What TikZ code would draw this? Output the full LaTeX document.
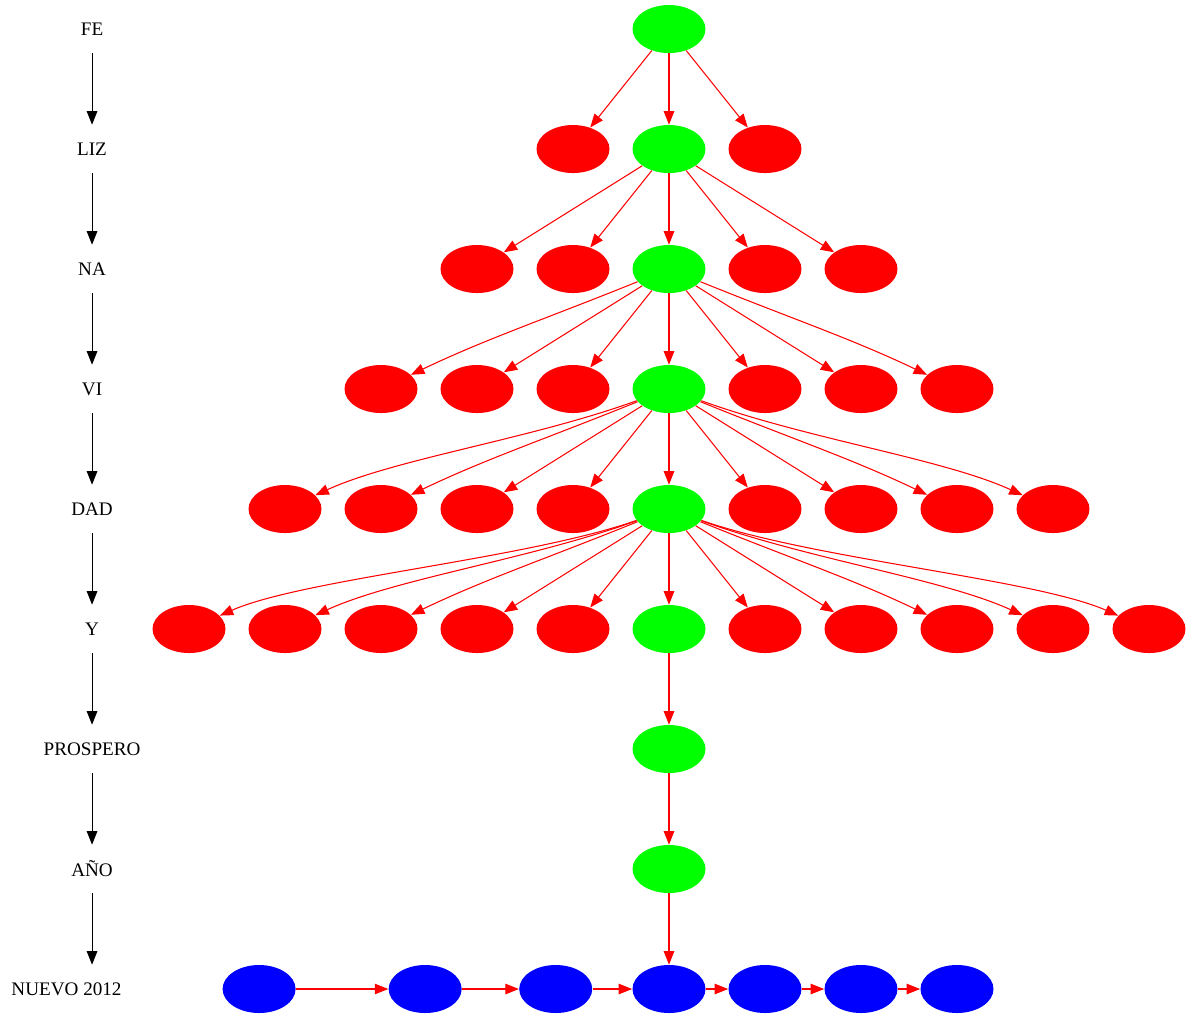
\documentclass[tikz,border=0pt]{standalone}
\usepackage{fontspec}
\setmainfont{Liberation Serif}
\usepackage{tikz}
\usetikzlibrary{arrows.meta,shapes.geometric}
\usepackage{xcolor}

\begin{document}
\begin{tikzpicture}[x=1.92cm,y=2.4cm,>={Triangle[length=2.7mm,width=2.1mm]},font=\fontsize{10.9}{13}\selectfont,
  ball/.style={ellipse,minimum width=1.46cm,minimum height=0.96cm,inner sep=0pt},
  leaf/.style={ball,fill=green},
  bauble/.style={ball,fill=red},
  bulb/.style={ball,fill=blue},
  tag/.style={minimum height=0.96cm,inner sep=0pt},
  branch/.style={->,red,line width=0.6pt},
  rankline/.style={->,black,line width=0.6pt}]
\useasboundingbox (-6.969,0.242) rectangle (5.4375,-8.25);
% words on the left
\node[tag] (fe) at (-6.01,0) {FE};
\node[tag] (liz) at (-6.01,-1) {LIZ};
\node[tag] (na) at (-6.01,-2) {NA};
\node[tag] (vi) at (-6.01,-3) {VI};
\node[tag] (dad) at (-6.01,-4) {DAD};
\node[tag] (y) at (-6.01,-5) {Y};
\node[tag] (prospero) at (-6.01,-6) {PROSPERO};
\node[tag] (ano) at (-6.01,-7) {AÑO};
\node[tag] (nuevo) at (-6.276,-8) {NUEVO 2012};
\draw[rankline] (fe) -- (liz);
\draw[rankline] (liz) -- (na);
\draw[rankline] (na) -- (vi);
\draw[rankline] (vi) -- (dad);
\draw[rankline] (dad) -- (y);
\draw[rankline] (y) -- (prospero);
\draw[rankline] (prospero) -- (ano);
\draw[rankline] (ano) -- (ano |- nuevo.north);
% trunk
\node[leaf] (t0) at (0,0) {};
\node[leaf] (t1) at (0,-1) {};
\node[leaf] (t2) at (0,-2) {};
\node[leaf] (t3) at (0,-3) {};
\node[leaf] (t4) at (0,-4) {};
\node[leaf] (t5) at (0,-5) {};
\node[leaf] (t6) at (0,-6) {};
\node[leaf] (t7) at (0,-7) {};
% baubles
\node[bauble] (b1l1) at (-1,-1) {};
\node[bauble] (b1r1) at (1,-1) {};
\node[bauble] (b2l2) at (-2,-2) {};
\node[bauble] (b2l1) at (-1,-2) {};
\node[bauble] (b2r1) at (1,-2) {};
\node[bauble] (b2r2) at (2,-2) {};
\node[bauble] (b3l3) at (-3,-3) {};
\node[bauble] (b3l2) at (-2,-3) {};
\node[bauble] (b3l1) at (-1,-3) {};
\node[bauble] (b3r1) at (1,-3) {};
\node[bauble] (b3r2) at (2,-3) {};
\node[bauble] (b3r3) at (3,-3) {};
\node[bauble] (b4l4) at (-4,-4) {};
\node[bauble] (b4l3) at (-3,-4) {};
\node[bauble] (b4l2) at (-2,-4) {};
\node[bauble] (b4l1) at (-1,-4) {};
\node[bauble] (b4r1) at (1,-4) {};
\node[bauble] (b4r2) at (2,-4) {};
\node[bauble] (b4r3) at (3,-4) {};
\node[bauble] (b4r4) at (4,-4) {};
\node[bauble] (b5l5) at (-5,-5) {};
\node[bauble] (b5l4) at (-4,-5) {};
\node[bauble] (b5l3) at (-3,-5) {};
\node[bauble] (b5l2) at (-2,-5) {};
\node[bauble] (b5l1) at (-1,-5) {};
\node[bauble] (b5r1) at (1,-5) {};
\node[bauble] (b5r2) at (2,-5) {};
\node[bauble] (b5r3) at (3,-5) {};
\node[bauble] (b5r4) at (4,-5) {};
\node[bauble] (b5r5) at (5,-5) {};
% lights
\node[bulb] (s1) at (-4.27,-8) {};
\node[bulb] (s2) at (-2.54,-8) {};
\node[bulb] (s3) at (-1.18,-8) {};
\node[bulb] (s4) at (0,-8) {};
\node[bulb] (s5) at (1,-8) {};
\node[bulb] (s6) at (2,-8) {};
\node[bulb] (s7) at (3,-8) {};
% branches
\draw[branch] (t0) -- (b1l1);
\draw[branch] (t0) -- (t1);
\draw[branch] (t0) -- (b1r1);
\draw[branch] (t1) -- (b2l2);
\draw[branch] (t1) -- (b2l1);
\draw[branch] (t1) -- (t2);
\draw[branch] (t1) -- (b2r1);
\draw[branch] (t1) -- (b2r2);
\draw[branch] (t2) .. controls +(-1.3,-0.42) and +(1.1,0.42) .. (b3l3);
\draw[branch] (t2) -- (b3l2);
\draw[branch] (t2) -- (b3l1);
\draw[branch] (t2) -- (t3);
\draw[branch] (t2) -- (b3r1);
\draw[branch] (t2) -- (b3r2);
\draw[branch] (t2) .. controls +(1.3,-0.42) and +(-1.1,0.42) .. (b3r3);
\draw[branch] (t3) .. controls +(-1.45,-0.42) and +(1.15,0.42) .. (b4l4);
\draw[branch] (t3) .. controls +(-1.3,-0.42) and +(1.1,0.42) .. (b4l3);
\draw[branch] (t3) -- (b4l2);
\draw[branch] (t3) -- (b4l1);
\draw[branch] (t3) -- (t4);
\draw[branch] (t3) -- (b4r1);
\draw[branch] (t3) -- (b4r2);
\draw[branch] (t3) .. controls +(1.3,-0.42) and +(-1.1,0.42) .. (b4r3);
\draw[branch] (t3) .. controls +(1.45,-0.42) and +(-1.15,0.42) .. (b4r4);
\draw[branch] (t4) .. controls +(-1.5,-0.42) and +(1.2,0.42) .. (b5l5);
\draw[branch] (t4) .. controls +(-1.45,-0.42) and +(1.15,0.42) .. (b5l4);
\draw[branch] (t4) .. controls +(-1.3,-0.42) and +(1.1,0.42) .. (b5l3);
\draw[branch] (t4) -- (b5l2);
\draw[branch] (t4) -- (b5l1);
\draw[branch] (t4) -- (t5);
\draw[branch] (t4) -- (b5r1);
\draw[branch] (t4) -- (b5r2);
\draw[branch] (t4) .. controls +(1.3,-0.42) and +(-1.1,0.42) .. (b5r3);
\draw[branch] (t4) .. controls +(1.45,-0.42) and +(-1.15,0.42) .. (b5r4);
\draw[branch] (t4) .. controls +(1.5,-0.42) and +(-1.2,0.42) .. (b5r5);
\draw[branch] (t5) -- (t6);
\draw[branch] (t6) -- (t7);
\draw[branch] (t7) -- (s4);
\draw[branch] (s1) -- (s2);
\draw[branch] (s2) -- (s3);
\draw[branch] (s3) -- (s4);
\draw[branch] (s4) -- (s5);
\draw[branch] (s5) -- (s6);
\draw[branch] (s6) -- (s7);
\end{tikzpicture}
\end{document}
